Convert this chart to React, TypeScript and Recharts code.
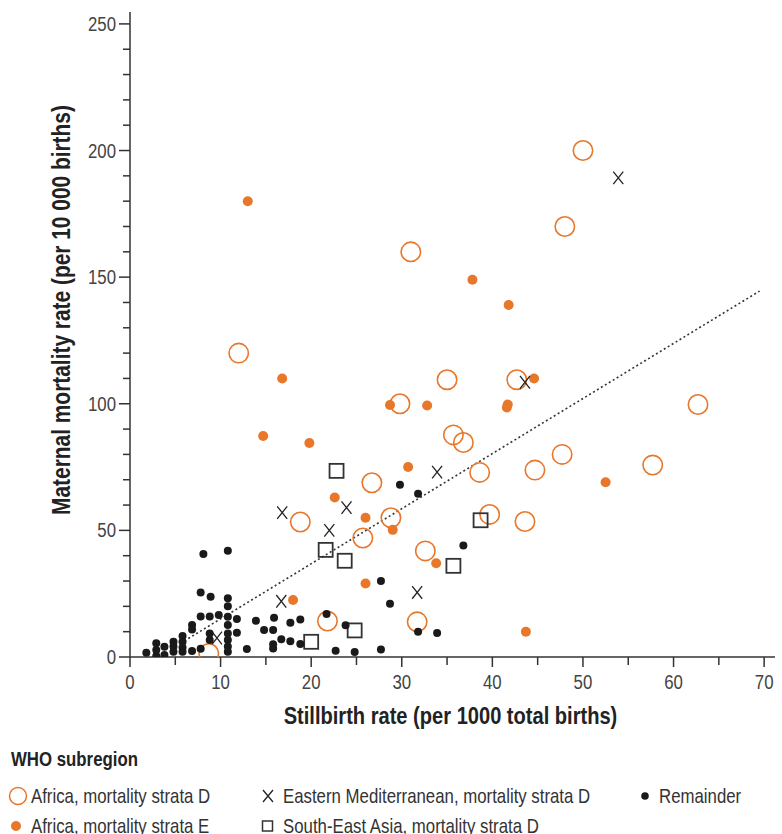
import React from "react";
import { ScatterChart, Scatter, XAxis, YAxis, ReferenceLine } from "recharts";

const FONT = "'Liberation Sans', Arial, Helvetica, sans-serif";
const NARROW = 0.82;
const ORANGE = "#E8772A";
const DARK = "#222222";

// Tick values
const xTicks = [0, 5, 10, 15, 20, 25, 30, 35, 40, 45, 50, 55, 60, 65, 70];
const yTicks = [0, 10, 20, 30, 40, 50, 60, 70, 80, 90, 100, 110, 120, 130, 140, 150, 160, 170, 180, 190, 200, 210, 220, 230, 240, 250];
const xLabelStep = 10;
const yLabelStep = 50;

// Series: [stillbirth rate, maternal mortality rate]
const africaD: [number, number][] = [
  [50, 200], [48, 170], [31, 160], [12, 120], [35, 109.5], [42.7, 109.5], [62.7, 99.7], [29.8, 100],
  [35.7, 87.7], [36.8, 84.7], [47.7, 80], [57.7, 75.8], [44.7, 73.8], [38.6, 72.9], [26.7, 68.8],
  [39.7, 56.3], [43.6, 53.5], [28.8, 55], [18.8, 53.3], [25.7, 47], [32.6, 41.9], [31.7, 13.9],
  [21.8, 14.2], [8.7, 1.4],
];
const africaE: [number, number][] = [
  [13, 180], [37.8, 149], [41.8, 139], [16.8, 110], [44.6, 110], [41.6, 98.5], [41.7, 99.7],
  [28.7, 99.5], [32.8, 99.3], [14.7, 87.3], [19.8, 84.5], [30.7, 75], [52.5, 69], [22.6, 63],
  [26, 55], [29, 50.2], [26, 29], [33.8, 37], [43.7, 10], [18, 22.5],
];
const eastMed: [number, number][] = [
  [53.9, 189.2], [43.6, 108.5], [33.9, 73], [16.8, 57], [23.9, 59], [22, 50], [31.7, 25.5],
  [16.7, 22], [9.6, 7.5],
];
const seAsia: [number, number][] = [
  [22.8, 73.5], [38.7, 54], [21.6, 42.3], [23.7, 38], [35.7, 36], [24.8, 10.5], [20, 6],
];
const remainder: [number, number][] = [
  [29.8, 68], [31.8, 64.5], [36.8, 44], [27.7, 30], [28.7, 21], [23.8, 12.5], [31.8, 10], [33.9, 9.5],
  [22.7, 2.5], [24.8, 2], [27.7, 3], [21.7, 17], [11.8, 15], [13.9, 14.3], [15.9, 15.5], [17.7, 13.5],
  [18.8, 14.8], [14.8, 10.7], [15.8, 10.7], [11.8, 9.6], [16.7, 7], [17.7, 6.2], [18.8, 5.1], [15.8, 5],
  [15.8, 3.4], [12.9, 3.2], [7.8, 25.5], [8.9, 23.8], [10.8, 23.2], [10.8, 20], [7.8, 16], [8.8, 16],
  [9.8, 16.6], [6.85, 12.6], [6.85, 10.9], [10.8, 15.9], [10.8, 12.6], [5.8, 8.3], [8.8, 9.3], [8.8, 6.7],
  [10.8, 9.3], [10.8, 6.7], [10.8, 4.1], [10.8, 2.1], [4.8, 6], [5.8, 6], [5.8, 3.8], [5.8, 2.1],
  [4.8, 4.1], [4.8, 2.1], [3.8, 4], [3.8, 0.8], [2.9, 5.4], [2.9, 2.8], [2.9, 0.4], [1.8, 1.7],
  [6.85, 2.4], [7.8, 3.3], [8.1, 40.7], [10.8, 42],
];
const trendLine = [
  { x: 6, y: 6.35 },
  { x: 69.5, y: 144.5 },
];

const toPts = (arr: [number, number][]) => arr.map(([x, y]) => ({ x, y }));

type NTextProps = {
  x: number;
  y: number;
  size: number;
  anchor?: "start" | "middle" | "end";
  bold?: boolean;
  fill?: string;
  rotate?: number;
  children: React.ReactNode;
};

const NText = ({ x, y, size, anchor = "start", bold = false, fill = "#333", rotate = 0, children }: NTextProps) => (
  <text
    transform={`translate(${x},${y})${rotate ? ` rotate(${rotate})` : ""} scale(${NARROW},1)`}
    x={0}
    y={0}
    textAnchor={anchor}
    fontSize={size}
    fontWeight={bold ? "bold" : "normal"}
    fill={fill}
    fontFamily={FONT}
  >
    {children}
  </text>
);

const XTick = (props: any) => {
  const { x, y, payload } = props;
  const v = payload.value;
  const major = v % xLabelStep === 0;
  return (
    <g>
      <line x1={x} x2={x} y1={y} y2={y + (major ? 10 : 8)} stroke="#333" strokeWidth={1.5} />
      {major && (
        <NText x={x} y={y + 32} anchor="middle" size={20.5} fill="#444">
          {v}
        </NText>
      )}
    </g>
  );
};

const YTick = (props: any) => {
  const { x, y, payload } = props;
  const v = payload.value;
  const major = v % yLabelStep === 0;
  return (
    <g>
      <line x1={x - (major ? 11 : 7)} x2={x} y1={y} y2={y} stroke="#333" strokeWidth={1.5} />
      {major && (
        <NText x={x - 14} y={y + 7} anchor="end" size={20.5} fill="#444">
          {v}
        </NText>
      )}
    </g>
  );
};

const OpenCircle = (p: any) => (
  <circle cx={p.cx} cy={p.cy} r={9.7} fill="none" stroke={ORANGE} strokeWidth={1.6} />
);
const FilledDot = (p: any) => <circle cx={p.cx} cy={p.cy} r={5} fill={ORANGE} />;
const Cross = (p: any) => (
  <path
    d={`M${p.cx - 5},${p.cy - 6.3}L${p.cx + 5},${p.cy + 6.3}M${p.cx + 5},${p.cy - 6.3}L${p.cx - 5},${p.cy + 6.3}`}
    stroke={DARK}
    strokeWidth={1.3}
    fill="none"
  />
);
const Square = (p: any) => (
  <rect x={p.cx - 7} y={p.cy - 7} width={14} height={14} fill="none" stroke="#333" strokeWidth={1.8} />
);
const BlackDot = (p: any) => <circle cx={p.cx} cy={p.cy} r={4} fill="#1a1a1a" />;

export default function App() {
  return (
    <div style={{ position: "absolute", left: 0, top: 0, width: 782, height: 834, background: "#fff", overflow: "hidden" }}>
      <ScatterChart width={782} height={700} margin={{ top: 12, right: 7, bottom: 0, left: 0 }}>
        <XAxis
          type="number"
          dataKey="x"
          domain={[0, 71.2]}
          ticks={xTicks}
          interval={0}
          tickSize={0}
          tickMargin={0}
          tickLine={false}
          tick={<XTick />}
          height={43}
          axisLine={{ stroke: "#333", strokeWidth: 1.5 }}
          allowDataOverflow
        />
        <YAxis
          type="number"
          dataKey="y"
          domain={[0, 254.7]}
          ticks={yTicks}
          interval={0}
          tickSize={0}
          tickMargin={0}
          tickLine={false}
          tick={<YTick />}
          width={130}
          axisLine={{ stroke: "#333", strokeWidth: 1.5 }}
          allowDataOverflow
        />
        <ReferenceLine
          segment={trendLine}
          stroke="#333"
          strokeWidth={1.6}
          strokeDasharray="2 2.6"
          ifOverflow="visible"
        />
        <Scatter data={toPts(africaD)} shape={OpenCircle} isAnimationActive={false} />
        <Scatter data={toPts(seAsia)} shape={Square} isAnimationActive={false} />
        <Scatter data={toPts(remainder)} shape={BlackDot} isAnimationActive={false} />
        <Scatter data={toPts(africaE)} shape={FilledDot} isAnimationActive={false} />
        <Scatter data={toPts(eastMed)} shape={Cross} isAnimationActive={false} />
      </ScatterChart>
      <svg width={782} height={834} style={{ position: "absolute", left: 0, top: 0, pointerEvents: "none" }}>
        <NText x={450.5} y={724} anchor="middle" size={24.5} bold fill={DARK}>
          Stillbirth rate (per 1000 total births)
        </NText>
        <NText x={70} y={310} anchor="middle" size={25.5} bold fill={DARK} rotate={-90}>
          Maternal mortality rate (per 10 000 births)
        </NText>
        <NText x={11} y={766} size={20.5} bold fill={DARK}>
          WHO subregion
        </NText>
        <circle cx={18} cy={796} r={8.5} fill="none" stroke={ORANGE} strokeWidth={1.5} />
        <NText x={31} y={803} size={20.5}>
          Africa, mortality strata D
        </NText>
        <circle cx={16} cy={826} r={5} fill={ORANGE} />
        <NText x={31} y={833} size={20.5}>
          Africa, mortality strata E
        </NText>
        <path d="M263,790L273,802M273,790L263,802" stroke={DARK} strokeWidth={1.3} fill="none" />
        <NText x={283} y={803} size={20.5}>
          Eastern Mediterranean, mortality strata D
        </NText>
        <rect x={262.5} y={821} width={10} height={10} fill="none" stroke="#333" strokeWidth={1.5} />
        <NText x={283} y={833} size={20.5}>
          South-East Asia, mortality strata D
        </NText>
        <circle cx={645} cy={796} r={3.8} fill="#1a1a1a" />
        <NText x={659} y={803} size={20.5}>
          Remainder
        </NText>
      </svg>
    </div>
  );
}
